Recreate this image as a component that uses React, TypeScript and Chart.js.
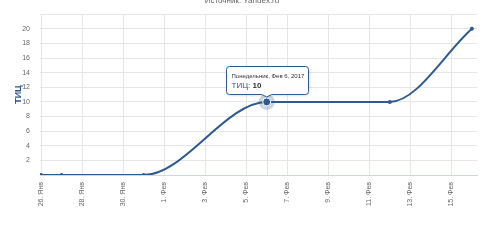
import React, { useEffect, useRef } from "react";
import { Chart, registerables } from "chart.js";

Chart.register(...registerables);

// ---- data ----
const dates: string[] = ["2017-01-26", "2017-01-27", "2017-01-31", "2017-02-06", "2017-02-12", "2017-02-16"];
const values: number[] = [0, 0, 0, 10, 10, 20];
const xTickDays: number[] = [0, 2, 4, 6, 8, 10, 12, 14, 16, 18, 20];
const yTickValues: number[] = [2, 4, 6, 8, 10, 12, 14, 16, 18, 20];
const monthNames: string[] = ["Янв", "Фев", "Мар", "Апр", "Май", "Июн", "Июл", "Авг", "Сен", "Окт", "Ноя", "Дек"];
const seriesName = "ТИЦ";
const titleText = "Источник: Yandex.ru";
const highlightIndex = 3;
const tooltipHeader = "Понедельник, Фев 6, 2017";

const DAY = 86400000;
const baseTime = Date.parse(dates[0]);
const dayOffsets = dates.map((d) => (Date.parse(d) - baseTime) / DAY);

const LINE = "#2e5a8c";
const FONT = "'Liberation Sans', Arial, sans-serif";

function dayLabel(v: number): string {
  const d = new Date(baseTime + v * DAY);
  return `${d.getUTCDate()}. ${monthNames[d.getUTCMonth()]}`;
}

const decorPlugin = {
  id: "decor",
  beforeDatasetsDraw(chart: any) {
    const { ctx, chartArea } = chart;
    const meta = chart.getDatasetMeta(0);
    const pt = meta.data[highlightIndex];
    if (!pt) return;
    ctx.save();
    ctx.strokeStyle = "#e2e2e2";
    ctx.lineWidth = 1;
    ctx.beginPath();
    ctx.moveTo(Math.round(pt.x) + 0.5, chartArea.top);
    ctx.lineTo(Math.round(pt.x) + 0.5, chartArea.bottom);
    ctx.stroke();
    ctx.restore();
  },
  afterDatasetsDraw(chart: any) {
    const { ctx } = chart;
    const meta = chart.getDatasetMeta(0);
    const pt = meta.data[highlightIndex];
    if (!pt) return;
    ctx.save();
    ctx.fillStyle = "rgba(46,90,140,0.25)";
    ctx.beginPath();
    ctx.arc(pt.x, pt.y, 8, 0, Math.PI * 2);
    ctx.fill();
    ctx.fillStyle = LINE;
    ctx.strokeStyle = "#ffffff";
    ctx.lineWidth = 1;
    ctx.beginPath();
    ctx.arc(pt.x, pt.y, 4, 0, Math.PI * 2);
    ctx.fill();
    ctx.stroke();
    ctx.restore();
  },
  afterDraw(chart: any) {
    const { ctx } = chart;
    ctx.save();
    ctx.fillStyle = "#666666";
    ctx.font = `8px ${FONT}`;
    ctx.textAlign = "center";
    ctx.textBaseline = "alphabetic";
    ctx.fillText(titleText, 242, 3);
    ctx.restore();

    const meta = chart.getDatasetMeta(0);
    const pt = meta.data[highlightIndex];
    if (!pt) return;
    const w = 82;
    const h = 28;
    const cx = pt.x;
    const left = Math.round(cx - w / 2) + 0.5;
    const top = Math.round(pt.y - 36) + 0.5;
    const right = left + w;
    const bottom = top + h;
    const tipY = pt.y - 5;
    const r = 3;
    ctx.save();
    ctx.shadowColor = "rgba(0,0,0,0.15)";
    ctx.shadowBlur = 3;
    ctx.shadowOffsetX = 1;
    ctx.shadowOffsetY = 1;
    ctx.beginPath();
    ctx.moveTo(left + r, top);
    ctx.lineTo(right - r, top);
    ctx.arcTo(right, top, right, top + r, r);
    ctx.lineTo(right, bottom - r);
    ctx.arcTo(right, bottom, right - r, bottom, r);
    ctx.lineTo(cx + 5, bottom);
    ctx.lineTo(cx, tipY);
    ctx.lineTo(cx - 5, bottom);
    ctx.lineTo(left + r, bottom);
    ctx.arcTo(left, bottom, left, bottom - r, r);
    ctx.lineTo(left, top + r);
    ctx.arcTo(left, top, left + r, top, r);
    ctx.closePath();
    ctx.fillStyle = "rgba(255,255,255,0.96)";
    ctx.fill();
    ctx.shadowColor = "transparent";
    ctx.strokeStyle = LINE;
    ctx.lineWidth = 1;
    ctx.stroke();

    ctx.textAlign = "left";
    ctx.textBaseline = "middle";
    ctx.fillStyle = "#333333";
    ctx.font = `6px ${FONT}`;
    ctx.fillText(tooltipHeader, left + 5, top + 10);
    ctx.font = `8px ${FONT}`;
    ctx.fillStyle = LINE;
    const lbl = `${seriesName}: `;
    ctx.fillText(lbl, left + 5, top + 19);
    const lw = ctx.measureText(lbl).width;
    ctx.font = `bold 8px ${FONT}`;
    ctx.fillStyle = "#333333";
    ctx.fillText(String(values[highlightIndex]), left + 5 + lw, top + 19);
    ctx.restore();
  },
};

export default function App() {
  const ref = useRef<HTMLCanvasElement | null>(null);
  useEffect(() => {
    if (!ref.current) return;
    const chart = new Chart(ref.current, {
      type: "line",
      data: {
        datasets: [
          {
            label: seriesName,
            data: dayOffsets.map((x, i) => ({ x, y: values[i] })),
            borderColor: LINE,
            backgroundColor: LINE,
            borderWidth: 2,
            cubicInterpolationMode: "monotone",
            pointRadius: (c: any) => (c.dataIndex === highlightIndex ? 0 : 2),
            pointBackgroundColor: LINE,
            pointBorderWidth: 0,
            fill: false,
          },
        ],
      },
      options: {
        responsive: false,
        animation: false,
        events: [],
        layout: { padding: { top: 13, right: 23, left: 0, bottom: 0 } },
        plugins: {
          legend: { display: false },
          tooltip: { enabled: false },
          title: { display: false },
        },
        scales: {
          x: {
            type: "linear",
            min: -0.05,
            max: 21.25,
            afterBuildTicks: (scale: any) => {
              scale.ticks = xTickDays.map((v) => ({ value: v }));
            },
            afterFit: (scale: any) => {
              scale.height = 71;
            },
            grid: { color: "#e6e6e6", drawTicks: false, lineWidth: 1 },
            border: { display: true, color: "#ccd6eb" },
            ticks: {
              autoSkip: false,
              minRotation: 90,
              maxRotation: 90,
              padding: 7,
              color: "#666666",
              font: { size: 7, family: FONT },
              callback: (v: any) => dayLabel(Number(v)),
            },
          },
          y: {
            min: 0,
            max: 22,
            afterBuildTicks: (scale: any) => {
              scale.ticks = [0, ...yTickValues, 22].map((v) => ({ value: v }));
            },
            afterFit: (scale: any) => {
              scale.width = 40;
            },
            grid: { color: "#e6e6e6", drawTicks: false, lineWidth: 1 },
            border: { display: false },
            ticks: {
              padding: 10,
              color: "#666666",
              font: { size: 7, family: FONT },
              callback: (v: any) => (yTickValues.includes(Number(v)) ? String(v) : ""),
            },
            title: {
              display: true,
              text: seriesName,
              color: LINE,
              font: { size: 9, weight: "bold", family: FONT },
              padding: { top: 13, bottom: 0 },
            },
          },
        },
      },
      plugins: [decorPlugin],
    } as any);
    return () => chart.destroy();
  }, []);
  return (
    <div style={{ position: "fixed", left: 0, top: 0, width: 500, height: 246, background: "#fff" }}>
      <canvas ref={ref} width={500} height={246} />
    </div>
  );
}
